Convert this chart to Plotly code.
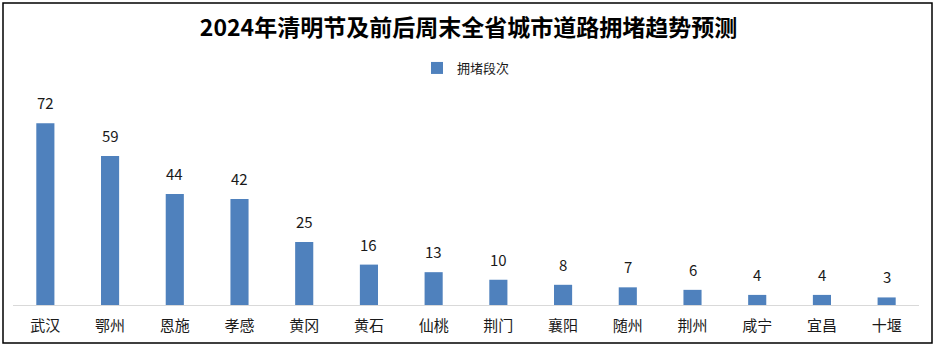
import plotly.graph_objects as go

cities = ["武汉", "鄂州", "恩施", "孝感", "黄冈", "黄石", "仙桃", "荆门", "襄阳", "随州", "荆州", "咸宁", "宜昌", "十堰"]
congestion = [72, 59, 44, 42, 25, 16, 13, 10, 8, 7, 6, 4, 4, 3]
series_name = "拥堵段次"
title_text = "2024年清明节及前后周末全省城市道路拥堵趋势预测"

W, H = 937, 347
ml, mr, mt, mb = 13, 18, 103, 42
pw, ph = W - ml - mr, H - mt - mb

font_family = "Noto Sans CJK SC, Microsoft YaHei, sans-serif"

fig = go.Figure()
fig.add_trace(go.Bar(
    x=cities, y=congestion, name=series_name,
    marker=dict(color="#4f81bd", line=dict(width=0)),
    width=0.28,
    showlegend=True,
))

annotations = [
    dict(x=c, y=v, xref="x", yref="y", text=str(v), showarrow=False,
         yanchor="bottom", yshift=8,
         font=dict(size=15, color="#1a1a1a", family=font_family))
    for c, v in zip(cities, congestion)
]

def px_x(p):
    return (p - ml) / pw

def px_y(p):
    return 1 - (p - mt) / ph

fig.update_layout(
    width=W, height=H,
    margin=dict(l=ml, r=mr, t=mt, b=mb),
    paper_bgcolor="white", plot_bgcolor="white",
    font=dict(family=font_family, color="#1a1a1a"),
    title=dict(text="<b>" + title_text + "</b>", x=0.5, xanchor="center",
               y=1 - 28 / H, yanchor="middle",
               font=dict(size=23, color="#000000", family=font_family)),
    legend=dict(orientation="h", x=0.5, xanchor="center", y=1 - 68 / H, yanchor="middle",
                yref="container", font=dict(size=13, color="#1a1a1a"),
                itemwidth=30),
    xaxis=dict(showgrid=False, zeroline=False, showline=True, linecolor="#d9d9d9",
               linewidth=1, ticks="", ticklabelstandoff=7,
               tickfont=dict(size=15, color="#1a1a1a")),
    yaxis=dict(range=[0, 80], visible=False, showgrid=False, zeroline=False),
    annotations=annotations,
    shapes=[dict(type="rect", xref="paper", yref="paper",
                 x0=px_x(3), x1=px_x(932), y0=px_y(343), y1=px_y(3),
                 line=dict(color="#000000", width=1.5), layer="above")],
)

fig.write_html("out.html")
